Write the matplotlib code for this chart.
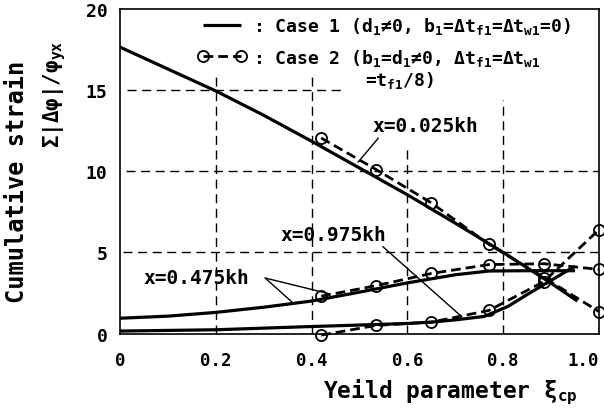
import matplotlib
matplotlib.use('Agg')
import matplotlib.pyplot as plt
from matplotlib.lines import Line2D

plt.rcParams['font.family'] = ['DejaVu Sans Mono', 'DejaVu Sans']
plt.rcParams['font.weight'] = 'bold'

# ---------------- data ----------------
# Case 1 (solid lines)
c1_x_025 = [0, 0.1, 0.2, 0.3, 0.4, 0.5, 0.6, 0.7, 0.8, 0.9, 0.955]
c1_y_025 = [17.65, 16.3, 14.95, 13.45, 11.85, 10.2, 8.55, 6.8, 5.0, 3.1, 2.0]

c1_x_475 = [0, 0.1, 0.2, 0.3, 0.4, 0.5, 0.6, 0.7, 0.77, 0.85, 0.95]
c1_y_475 = [0.94, 1.07, 1.3, 1.62, 2.0, 2.55, 3.12, 3.62, 3.85, 3.87, 3.87]

c1_x_975 = [0, 0.2, 0.4, 0.5, 0.6, 0.65, 0.7, 0.76, 0.81, 0.85, 0.89, 0.95]
c1_y_975 = [0.15, 0.23, 0.43, 0.52, 0.62, 0.7, 0.84, 1.05, 1.67, 2.4, 3.1, 4.15]

# Case 2 (dashed lines with circles)
c2_x = [0.42, 0.535, 0.65, 0.77, 0.885, 1.0]
c2_y_025 = [12.05, 10.1, 8.05, 5.5, 3.45, 1.35]
c2_y_475 = [2.3, 2.95, 3.7, 4.25, 4.3, 3.95]
c2_y_975 = [-0.1, 0.5, 0.7, 1.42, 3.2, 6.4]

x_ticks = [0, 0.2, 0.4, 0.6, 0.8, 1.0]
x_ticklabels = ['0', '0.2', '0.4', '0.6', '0.8', '1.0']
y_ticks = [0, 5, 10, 15, 20]
y_ticklabels = ['0', '5', '10', '15', '20']

# partial dashed reference lines (value, start, end)
grid_h = [(15, 0.015, 0.47), (10, 0.012, 1.0), (5, 0.006, 1.0)]
grid_v = [(0.2, 0, 15.9), (0.4, 0, 15.9), (0.6, 0, 11.35), (0.8, 0, 14.4)]

# ---------------- figure ----------------
fig = plt.figure(figsize=(6.04, 4.14), dpi=100)
ax = fig.add_axes([120/604, 1-334.5/414, 479/604, 324.5/414])
ax.set_xlim(0, 1.0)
ax.set_ylim(0, 20)

gstyle = dict(color='black', linewidth=1.0, linestyles=(0, (6.5, 4)))
for yv, x0, x1 in grid_h:
    ax.hlines(yv, x0, x1, **gstyle)
for xv, y0, y1 in grid_v:
    ax.vlines(xv, y0, y1, **gstyle)

solid = dict(color='black', linewidth=2.3, solid_capstyle='butt')
dashed = dict(color='black', linewidth=2.0, dashes=(3.5, 1.8),
              marker='o', markersize=8, markerfacecolor='none',
              markeredgewidth=1.3, clip_on=False)

ax.plot(c1_x_025, c1_y_025, **solid)
ax.plot(c1_x_475, c1_y_475, **solid)
ax.plot(c1_x_975, c1_y_975, **solid)
ax.plot(c2_x, c2_y_025, **dashed)
ax.plot(c2_x, c2_y_475, **dashed)
ax.plot(c2_x, c2_y_975, **dashed)

for s in ax.spines.values():
    s.set_linewidth(1.2)

ax.set_xticks(x_ticks)
ax.set_xticklabels(x_ticklabels)
ax.set_yticks(y_ticks)
ax.set_yticklabels(y_ticklabels)
ax.tick_params(axis='both', length=0, labelsize=13)
ax.tick_params(axis='x', pad=12.5, labelsize=12.5)
ax.tick_params(axis='y', pad=9)
ax.get_xticklabels()[-1].set_horizontalalignment('right')

# legend
h1 = Line2D([], [], **solid)
h2 = Line2D([], [], color='black', linewidth=2.0, dashes=(3.5, 1.8),
            marker='o', markersize=8, markerfacecolor='none', markeredgewidth=1.3)
lab1 = r': Case 1 (d$_\mathregular{1}$≠0, b$_\mathregular{1}$=Δt$_\mathregular{f1}$=Δt$_\mathregular{w1}$=0)'
lab2 = r': Case 2 (b$_\mathregular{1}$=d$_\mathregular{1}$≠0, Δt$_\mathregular{f1}$=Δt$_\mathregular{w1}$'
ax.legend([h1, h2], [lab1, lab2], loc='upper left', bbox_to_anchor=(0.163, 0.982),
          frameon=False, fontsize=13, numpoints=2, handlelength=2.7,
          handletextpad=0.35, labelspacing=0.6, borderpad=0, borderaxespad=0)
ax.text(0.511, 0.784, r'=t$_\mathregular{f1}$/8)', transform=ax.transAxes,
        fontsize=13, ha='left', va='center')

# annotations
line_kw = dict(arrowstyle='-', color='black', linewidth=1.0, shrinkA=0, shrinkB=0)
ax.annotate('x=0.025kh', xy=(0.497, 10.56), xytext=(0.637, 12.8),
            fontsize=14, ha='center', va='center',
            arrowprops=dict(relpos=(0.08, 0), **line_kw))
ax.annotate('x=0.975kh', xy=(0.714, 1.02), xytext=(0.445, 6.11),
            fontsize=14, ha='center', va='center',
            arrowprops=dict(relpos=(0.94, 0), **line_kw))
ax.text(0.159, 3.48, 'x=0.475kh', fontsize=14, ha='center', va='center')
ax.annotate('', xy=(0.359, 1.94), xytext=(0.303, 3.42), arrowprops=line_kw)
ax.annotate('', xy=(0.438, 2.44), xytext=(0.303, 3.42), arrowprops=line_kw)

# axis labels
fig.text(17/604, 1-182/414, 'Cumulative strain', rotation=90, fontsize=17,
         ha='center', va='center')
fig.text(55/604, 1-94/414, r'Σ|Δφ|/φ$_\mathregular{yx}$', rotation=90, fontsize=15,
         ha='center', va='center')
fig.text(578/604, 1-398/414, r'Yeild parameter ξ$_\mathregular{cp}$', fontsize=16.5,
         ha='right', va='baseline')

fig.savefig('out.png', dpi=100)
